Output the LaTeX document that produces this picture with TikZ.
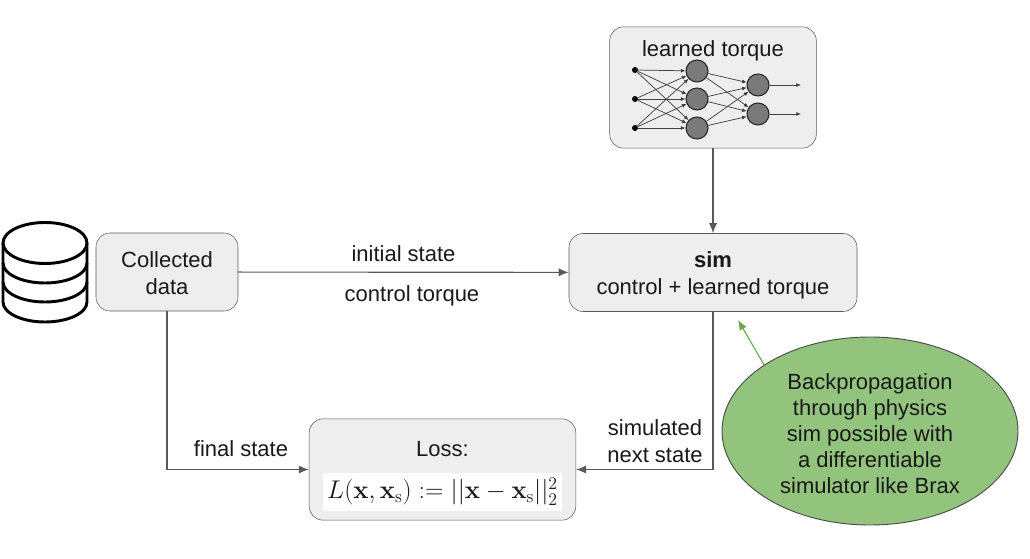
\documentclass[tikz,border=0pt]{standalone}
\usepackage{amsmath}
\usepackage[no-math]{fontspec}
\setmainfont{Liberation Sans}
\usetikzlibrary{arrows.meta,shapes.geometric}
\definecolor{boxfill}{HTML}{EEEEEE}
\definecolor{boxline}{HTML}{595959}
\definecolor{blobfill}{HTML}{93C47D}
\definecolor{blobarrow}{HTML}{6AA84F}
\definecolor{neuronfill}{HTML}{7A7A7A}
\tikzset{
    every node/.style={font=\fontsize{16.5}{20}\selectfont, text=black!90},
    box/.style={draw=boxline, fill=boxfill, rounded corners=10.5pt, inner sep=0pt, align=center},
    flow/.style={draw=boxline, line width=0.85pt, -{Latex[length=7.5pt,width=6pt]}},
    neuron/.style={circle, draw=black!85, fill=neuronfill, line width=0.8pt, minimum size=16.5pt, inner sep=0pt},
    inputdot/.style={circle, fill=black, minimum size=4.5pt, inner sep=0pt},
    synapse/.style={draw=black!75, line width=0.55pt, -{Latex[length=3.5pt,width=3pt]}},
    dbline/.style={draw=black, line width=2.2pt}
}
\begin{document}
\begin{tikzpicture}[x=0.75pt, y=-0.75pt]
    \useasboundingbox (0, 0) rectangle (1030, 559);

    % Main boxes
    \node[box, minimum width=155pt, minimum height=91pt] (torquebox) at (713, 87.5) {};
    \node[box, minimum width=106.5pt, minimum height=58.5pt] (databox) at (167, 272) {};
    \node[box, minimum width=216pt, minimum height=58.5pt] (simbox) at (713, 272.5) {};
    \node[box, minimum width=200pt, minimum height=76pt] (lossbox) at (442.5, 469.5) {};

    % Box contents
    \node (torquetext) at (713, 51) {learned torque};
    \node[align=center] (datatext) at (167, 273) {Collected\\data};
    \node[align=center] (simtext) at (713, 275) {\textbf{sim}\\control + learned torque};
    \node (losstext) at (442.5, 449) {Loss:};
    \node[fill=white, minimum width=179pt, minimum height=28.5pt, inner sep=0pt] (lossmath) at (442.5, 491.5)
        {\fontsize{20.74}{24}\selectfont\scalebox{0.927}{$L(\mathbf{x},\mathbf{x}_{\mathrm{s}}) := ||\mathbf{x}-\mathbf{x}_{\mathrm{s}}||_2^2$}};

    % Small network
    \node[inputdot] (in1) at (635, 70) {};
    \node[inputdot] (in2) at (635, 99) {};
    \node[inputdot] (in3) at (635, 128) {};
    \node[neuron] (hid1) at (697, 71) {};
    \node[neuron] (hid2) at (697, 99) {};
    \node[neuron] (hid3) at (697, 128) {};
    \node[neuron] (out1) at (758, 85) {};
    \node[neuron] (out2) at (758, 114) {};
    \coordinate (end1) at (801, 85);
    \coordinate (end2) at (801, 114);
    \foreach \i in {1,2,3}
        \foreach \h in {1,2,3}
            \draw[synapse] (in\i) -- (hid\h);
    \foreach \h in {1,2,3}
        \foreach \o in {1,2}
            \draw[synapse] (hid\h) -- (out\o);
    \draw[synapse] (out1) -- (end1);
    \draw[synapse] (out2) -- (end2);

    % Database icon
    \draw[dbline] (3, 243) -- (3, 302) arc[start angle=180, end angle=0, x radius=42, y radius=20] -- (87, 243);
    \draw[dbline] (45, 243) ellipse[x radius=42, y radius=20.5];
    \draw[dbline] (3, 263) arc[start angle=180, end angle=0, x radius=42, y radius=20];
    \draw[dbline] (3, 282) arc[start angle=180, end angle=0, x radius=42, y radius=20];

    % Connectors
    \draw[flow] (databox) -- (simbox);
    \draw[flow] (torquebox) -- (simbox);
    \draw[flow] (databox.south) |- (lossbox.west);
    \draw[flow] (simbox.south) |- (lossbox.east);

    % Connector labels
    \node (initlabel) at (403.5, 254) {initial state};
    \node (controllabel) at (412, 296) {control torque};
    \node (finallabel) at (241, 449) {final state};
    \node[align=center] (nextlabel) at (655, 441) {simulated\\next state};

    % Note on backpropagation
    \node[ellipse, draw=black!70, fill=blobfill, line width=0.7pt, minimum width=222pt, minimum height=141pt,
        inner sep=0pt] (noteblob) at (870, 431) {};
    \node[align=center, font=\fontsize{16.5}{19.6}\selectfont] (notetext) at (870, 433.5)
        {Backpropagation\\through physics\\sim possible with\\a differentiable\\simulator like Brax};
    \coordinate (notetip) at (738, 320);
    \draw[draw=blobarrow, line width=0.85pt, -{Latex[length=7.5pt,width=6pt]}] (noteblob.148) -- (notetip);
\end{tikzpicture}
\end{document}
